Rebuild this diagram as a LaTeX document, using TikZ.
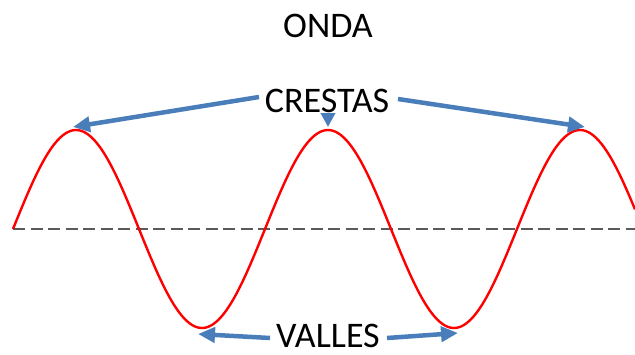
\documentclass[tikz,border=0pt]{standalone}
\usepackage{fontspec}
\setmainfont{Carlito}
\usetikzlibrary{arrows.meta}
\definecolor{arrowblue}{HTML}{4A7EBB}
\definecolor{midgray}{HTML}{5A5A5A}
\tikzset{
  lbl/.style={inner sep=0pt, anchor=base, text depth=0pt, font=\fontsize{36}{40}\selectfont},
  bluearrow/.style={draw=arrowblue, line width=4.5pt, -{Triangle[length=17pt,width=15pt]}},
  wave/.style={draw=red, line width=2.4pt},
  axisline/.style={draw=midgray, line width=2.4pt, dash pattern=on 12pt off 5.5pt}
}
\begin{document}
\begin{tikzpicture}[x=1pt,y=-1pt]
\useasboundingbox (0,0) rectangle (635,354);
% midline
\coordinate (m0) at (13,229);
\coordinate (m1) at (635,229);
\draw[axisline] (m0) -- (m1);
% wave
\draw[wave] plot[domain=13:635, samples=240, smooth] (\x, {229-99*sin(1.4285714*(\x-13))});
% labels
\node[lbl] (onda) at (328,37) {ONDA};
\node[lbl] (crestas) at (327,112) {CRESTAS};
\node[lbl] (valles) at (328,347) {VALLES};
% arrow targets
\coordinate (c1) at (73,127);
\coordinate (c2) at (328,127);
\coordinate (c3) at (585,127);
\coordinate (v1) at (198,334);
\coordinate (v2) at (458,333);
% arrow tails
\coordinate (ct1) at (259,97);
\coordinate (ct2) at (328,114);
\coordinate (ct3) at (398,99);
\coordinate (vt1) at (270,338);
\coordinate (vt2) at (387,338);
\draw[bluearrow] (ct1) -- (c1);
\draw[bluearrow, -{Triangle[length=14pt,width=14pt]}] (ct2) -- (c2);
\draw[bluearrow] (ct3) -- (c3);
\draw[bluearrow] (vt1) -- (v1);
\draw[bluearrow] (vt2) -- (v2);
\end{tikzpicture}
\end{document}
